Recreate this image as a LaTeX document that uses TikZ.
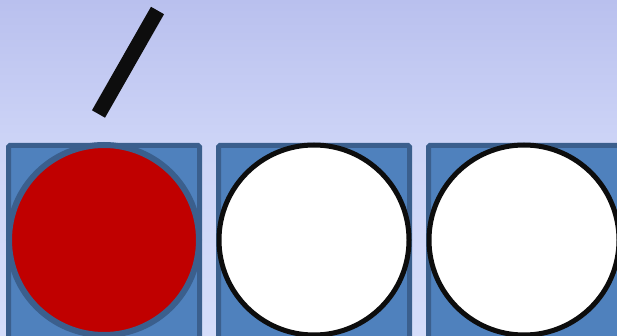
\documentclass[tikz,border=0pt]{standalone}
\usetikzlibrary{shapes.geometric}
\definecolor{bgtop}{RGB}{185,192,238}
\definecolor{bgmid}{RGB}{206,213,247}
\definecolor{bgbot}{RGB}{213,221,250}
\definecolor{boxfill}{RGB}{79,129,189}
\definecolor{boxedge}{RGB}{59,95,141}
\definecolor{redfill}{RGB}{192,0,0}
\definecolor{ink}{RGB}{13,13,13}
\pgfdeclareverticalshading{bgsh}{100bp}{color(0bp)=(bgbot); color(25bp)=(bgbot); color(52.7bp)=(bgmid); color(75bp)=(bgtop); color(100bp)=(bgtop)}
\tikzset{
  cell/.style={fill=boxfill,draw=boxedge,line width=5pt,rounded corners=1.5pt},
  redball/.style={fill=redfill,draw=boxedge,line width=6pt},
  whiteball/.style={fill=white,draw=ink,line width=5pt},
  stick/.style={draw=ink,line width=15pt,line cap=butt}
}
\begin{document}
\begin{tikzpicture}[x=1pt,y=-1pt]
\useasboundingbox (0,0) rectangle (617,336);
\clip (0,0) rectangle (617,336);
\shade[shading=bgsh] (0,0) rectangle (617,336);
% cells
\draw[cell] (8.5,145.5) rectangle (199.5,345);
\draw[cell] (218.5,145.5) rectangle (409.5,345);
\draw[cell] (428.5,145.5) rectangle (619.5,345);
% balls
\draw[redball] (104,240) circle (95);
\draw[whiteball] (314,240) circle (95);
\draw[whiteball] (524,240) circle (95);
% stick
\coordinate (s1) at (98.5,114);
\coordinate (s2) at (157.5,10.5);
\draw[stick] (s1) -- (s2);
\end{tikzpicture}
\end{document}
